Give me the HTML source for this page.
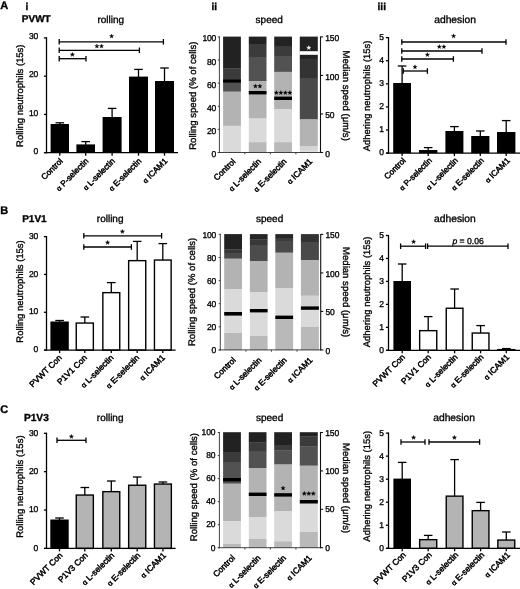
<!DOCTYPE html>
<html><head><meta charset="utf-8"><title>Figure</title>
<style>
html,body{margin:0;padding:0;background:#fff;overflow:hidden;}
svg{display:block;font-family:"Liberation Sans", sans-serif;will-change:transform;filter:grayscale(1);}
svg text{text-rendering:geometricPrecision;}
</style></head><body>
<svg width="520" height="589" viewBox="0 0 520 589">
<rect x="0" y="0" width="520" height="589" fill="#fff"/>
<text x="0.20" y="8.80" font-size="11" font-weight="bold" fill="#000" stroke="#000" stroke-width="0.33">A</text>
<text x="25.60" y="9.80" font-size="10" font-weight="bold" fill="#000" stroke="#000" stroke-width="0.33">i</text>
<text x="21.80" y="22.30" font-size="10" font-weight="bold" fill="#000" stroke="#000" stroke-width="0.33">PVWT</text>
<text x="97.40" y="22.80" font-size="10" fill="#000" stroke="#000" stroke-width="0.33">rolling</text>
<text x="211.40" y="9.80" font-size="10" font-weight="bold" fill="#000" stroke="#000" stroke-width="0.33">ii</text>
<text x="255.60" y="23.10" font-size="10" fill="#000" stroke="#000" stroke-width="0.33">speed</text>
<text x="377.60" y="9.90" font-size="10" font-weight="bold" fill="#000" stroke="#000" stroke-width="0.33">iii</text>
<text x="434.20" y="23.00" font-size="10.3" fill="#000" stroke="#000" stroke-width="0.33">adhesion</text>
<line x1="59.80" y1="124.50" x2="59.80" y2="122.80" stroke="#000" stroke-width="1.3"/>
<line x1="55.50" y1="122.80" x2="64.10" y2="122.80" stroke="#000" stroke-width="1.3"/>
<rect x="50.60" y="124.00" width="18.40" height="28.70" fill="#000"/>
<line x1="85.70" y1="144.90" x2="85.70" y2="141.60" stroke="#000" stroke-width="1.3"/>
<line x1="81.40" y1="141.60" x2="90.00" y2="141.60" stroke="#000" stroke-width="1.3"/>
<rect x="76.40" y="144.40" width="18.60" height="8.30" fill="#000"/>
<line x1="112.10" y1="117.50" x2="112.10" y2="108.40" stroke="#000" stroke-width="1.3"/>
<line x1="107.80" y1="108.40" x2="116.40" y2="108.40" stroke="#000" stroke-width="1.3"/>
<rect x="102.60" y="117.00" width="19.00" height="35.70" fill="#000"/>
<line x1="138.50" y1="77.10" x2="138.50" y2="69.40" stroke="#000" stroke-width="1.3"/>
<line x1="134.20" y1="69.40" x2="142.80" y2="69.40" stroke="#000" stroke-width="1.3"/>
<rect x="129.00" y="76.60" width="19.00" height="76.10" fill="#000"/>
<line x1="164.50" y1="81.50" x2="164.50" y2="68.00" stroke="#000" stroke-width="1.3"/>
<line x1="160.20" y1="68.00" x2="168.80" y2="68.00" stroke="#000" stroke-width="1.3"/>
<rect x="155.00" y="81.00" width="19.00" height="71.70" fill="#000"/>
<line x1="46.50" y1="37.30" x2="46.50" y2="153.30" stroke="#000" stroke-width="1.3"/>
<line x1="43.90" y1="152.70" x2="46.50" y2="152.70" stroke="#000" stroke-width="1.3"/>
<text x="38.20" y="154.00" font-size="8.5" text-anchor="end" letter-spacing="-0.15" fill="#000" stroke="#000" stroke-width="0.33">0</text>
<line x1="43.90" y1="114.43" x2="46.50" y2="114.43" stroke="#000" stroke-width="1.3"/>
<text x="38.20" y="115.73" font-size="8.5" text-anchor="end" letter-spacing="-0.15" fill="#000" stroke="#000" stroke-width="0.33">10</text>
<line x1="43.90" y1="76.17" x2="46.50" y2="76.17" stroke="#000" stroke-width="1.3"/>
<text x="38.20" y="77.47" font-size="8.5" text-anchor="end" letter-spacing="-0.15" fill="#000" stroke="#000" stroke-width="0.33">20</text>
<line x1="43.90" y1="37.90" x2="46.50" y2="37.90" stroke="#000" stroke-width="1.3"/>
<text x="38.20" y="39.20" font-size="8.5" text-anchor="end" letter-spacing="-0.15" fill="#000" stroke="#000" stroke-width="0.33">30</text>
<line x1="44.30" y1="152.70" x2="178.00" y2="152.70" stroke="#000" stroke-width="1.3"/>
<line x1="59.80" y1="152.70" x2="59.80" y2="155.70" stroke="#000" stroke-width="1.3"/>
<text x="63.20" y="161.60" font-size="8.2" text-anchor="end" transform="rotate(-45 63.20 161.60)" fill="#000" stroke="#000" stroke-width="0.48">Control</text>
<line x1="85.70" y1="152.70" x2="85.70" y2="155.70" stroke="#000" stroke-width="1.3"/>
<text x="89.10" y="161.60" font-size="8.2" text-anchor="end" transform="rotate(-45 89.10 161.60)" fill="#000" stroke="#000" stroke-width="0.48"><tspan font-size="7.05">α</tspan> P-selectin</text>
<line x1="112.10" y1="152.70" x2="112.10" y2="155.70" stroke="#000" stroke-width="1.3"/>
<text x="115.50" y="161.60" font-size="8.2" text-anchor="end" transform="rotate(-45 115.50 161.60)" fill="#000" stroke="#000" stroke-width="0.48"><tspan font-size="7.05">α</tspan> L-selectin</text>
<line x1="138.50" y1="152.70" x2="138.50" y2="155.70" stroke="#000" stroke-width="1.3"/>
<text x="141.90" y="161.60" font-size="8.2" text-anchor="end" transform="rotate(-45 141.90 161.60)" fill="#000" stroke="#000" stroke-width="0.48"><tspan font-size="7.05">α</tspan> E-selectin</text>
<line x1="164.50" y1="152.70" x2="164.50" y2="155.70" stroke="#000" stroke-width="1.3"/>
<text x="167.90" y="161.60" font-size="8.2" text-anchor="end" transform="rotate(-45 167.90 161.60)" fill="#000" stroke="#000" stroke-width="0.48"><tspan font-size="7.05">α</tspan> ICAM1</text>
<text x="23.00" y="95.70" font-size="9.5" text-anchor="middle" transform="rotate(-90 23.00 95.70)" fill="#000" stroke="#000" stroke-width="0.33">Rolling neutrophils (15s)</text>
<line x1="59.20" y1="41.80" x2="163.40" y2="41.80" stroke="#000" stroke-width="1.3"/>
<line x1="59.20" y1="39.00" x2="59.20" y2="44.60" stroke="#000" stroke-width="1.3"/>
<line x1="163.40" y1="39.00" x2="163.40" y2="44.60" stroke="#000" stroke-width="1.3"/>
<polygon points="111.60,33.95 112.15,35.44 113.74,35.50 112.49,36.49 112.92,38.02 111.60,37.14 110.28,38.02 110.71,36.49 109.46,35.50 111.05,35.44" fill="#000" stroke="#000" stroke-width="0.3" stroke-linejoin="round"/>
<line x1="59.20" y1="50.30" x2="139.40" y2="50.30" stroke="#000" stroke-width="1.3"/>
<line x1="59.20" y1="47.50" x2="59.20" y2="53.10" stroke="#000" stroke-width="1.3"/>
<line x1="139.40" y1="47.50" x2="139.40" y2="53.10" stroke="#000" stroke-width="1.3"/>
<polygon points="96.90,43.95 97.45,45.44 99.04,45.50 97.79,46.49 98.22,48.02 96.90,47.14 95.58,48.02 96.01,46.49 94.76,45.50 96.35,45.44" fill="#000" stroke="#000" stroke-width="0.3" stroke-linejoin="round"/>
<polygon points="101.50,43.95 102.05,45.44 103.64,45.50 102.39,46.49 102.82,48.02 101.50,47.14 100.18,48.02 100.61,46.49 99.36,45.50 100.95,45.44" fill="#000" stroke="#000" stroke-width="0.3" stroke-linejoin="round"/>
<line x1="59.20" y1="58.70" x2="86.00" y2="58.70" stroke="#000" stroke-width="1.3"/>
<line x1="59.20" y1="55.90" x2="59.20" y2="61.50" stroke="#000" stroke-width="1.3"/>
<line x1="86.00" y1="55.90" x2="86.00" y2="61.50" stroke="#000" stroke-width="1.3"/>
<polygon points="72.40,52.35 72.95,53.84 74.54,53.90 73.29,54.89 73.72,56.42 72.40,55.54 71.08,56.42 71.51,54.89 70.26,53.90 71.85,53.84" fill="#000" stroke="#000" stroke-width="0.3" stroke-linejoin="round"/>
<line x1="402.10" y1="83.50" x2="402.10" y2="66.00" stroke="#000" stroke-width="1.3"/>
<line x1="397.80" y1="66.00" x2="406.40" y2="66.00" stroke="#000" stroke-width="1.3"/>
<rect x="393.20" y="83.00" width="17.80" height="70.10" fill="#000"/>
<line x1="428.20" y1="150.50" x2="428.20" y2="147.60" stroke="#000" stroke-width="1.3"/>
<line x1="423.90" y1="147.60" x2="432.50" y2="147.60" stroke="#000" stroke-width="1.3"/>
<rect x="419.00" y="150.00" width="18.40" height="3.10" fill="#000"/>
<line x1="454.40" y1="131.50" x2="454.40" y2="126.60" stroke="#000" stroke-width="1.3"/>
<line x1="450.10" y1="126.60" x2="458.70" y2="126.60" stroke="#000" stroke-width="1.3"/>
<rect x="445.40" y="131.00" width="18.00" height="22.10" fill="#000"/>
<line x1="480.30" y1="136.50" x2="480.30" y2="131.00" stroke="#000" stroke-width="1.3"/>
<line x1="476.00" y1="131.00" x2="484.60" y2="131.00" stroke="#000" stroke-width="1.3"/>
<rect x="471.20" y="136.00" width="18.20" height="17.10" fill="#000"/>
<line x1="506.20" y1="132.50" x2="506.20" y2="120.60" stroke="#000" stroke-width="1.3"/>
<line x1="501.90" y1="120.60" x2="510.50" y2="120.60" stroke="#000" stroke-width="1.3"/>
<rect x="497.00" y="132.00" width="18.40" height="21.10" fill="#000"/>
<line x1="388.50" y1="37.00" x2="388.50" y2="153.70" stroke="#000" stroke-width="1.3"/>
<line x1="385.90" y1="153.10" x2="388.50" y2="153.10" stroke="#000" stroke-width="1.3"/>
<text x="383.80" y="155.30" font-size="8.5" text-anchor="end" letter-spacing="-0.15" fill="#000" stroke="#000" stroke-width="0.33">0</text>
<line x1="385.90" y1="130.00" x2="388.50" y2="130.00" stroke="#000" stroke-width="1.3"/>
<text x="383.80" y="132.20" font-size="8.5" text-anchor="end" letter-spacing="-0.15" fill="#000" stroke="#000" stroke-width="0.33">1</text>
<line x1="385.90" y1="106.90" x2="388.50" y2="106.90" stroke="#000" stroke-width="1.3"/>
<text x="383.80" y="109.10" font-size="8.5" text-anchor="end" letter-spacing="-0.15" fill="#000" stroke="#000" stroke-width="0.33">2</text>
<line x1="385.90" y1="83.80" x2="388.50" y2="83.80" stroke="#000" stroke-width="1.3"/>
<text x="383.80" y="86.00" font-size="8.5" text-anchor="end" letter-spacing="-0.15" fill="#000" stroke="#000" stroke-width="0.33">3</text>
<line x1="385.90" y1="60.70" x2="388.50" y2="60.70" stroke="#000" stroke-width="1.3"/>
<text x="383.80" y="62.90" font-size="8.5" text-anchor="end" letter-spacing="-0.15" fill="#000" stroke="#000" stroke-width="0.33">4</text>
<line x1="385.90" y1="37.60" x2="388.50" y2="37.60" stroke="#000" stroke-width="1.3"/>
<text x="383.80" y="39.80" font-size="8.5" text-anchor="end" letter-spacing="-0.15" fill="#000" stroke="#000" stroke-width="0.33">5</text>
<line x1="386.30" y1="153.10" x2="520.00" y2="153.10" stroke="#000" stroke-width="1.3"/>
<line x1="402.10" y1="153.10" x2="402.10" y2="156.10" stroke="#000" stroke-width="1.3"/>
<text x="406.30" y="161.10" font-size="8.2" text-anchor="end" transform="rotate(-45 406.30 161.10)" fill="#000" stroke="#000" stroke-width="0.48">Control</text>
<line x1="428.20" y1="153.10" x2="428.20" y2="156.10" stroke="#000" stroke-width="1.3"/>
<text x="432.40" y="161.10" font-size="8.2" text-anchor="end" transform="rotate(-45 432.40 161.10)" fill="#000" stroke="#000" stroke-width="0.48"><tspan font-size="7.05">α</tspan> P-selectin</text>
<line x1="454.40" y1="153.10" x2="454.40" y2="156.10" stroke="#000" stroke-width="1.3"/>
<text x="458.60" y="161.10" font-size="8.2" text-anchor="end" transform="rotate(-45 458.60 161.10)" fill="#000" stroke="#000" stroke-width="0.48"><tspan font-size="7.05">α</tspan> L-selectin</text>
<line x1="480.30" y1="153.10" x2="480.30" y2="156.10" stroke="#000" stroke-width="1.3"/>
<text x="484.50" y="161.10" font-size="8.2" text-anchor="end" transform="rotate(-45 484.50 161.10)" fill="#000" stroke="#000" stroke-width="0.48"><tspan font-size="7.05">α</tspan> E-selectin</text>
<line x1="506.20" y1="153.10" x2="506.20" y2="156.10" stroke="#000" stroke-width="1.3"/>
<text x="510.40" y="161.10" font-size="8.2" text-anchor="end" transform="rotate(-45 510.40 161.10)" fill="#000" stroke="#000" stroke-width="0.48"><tspan font-size="7.05">α</tspan> ICAM1</text>
<text x="370.50" y="95.95" font-size="9.45" text-anchor="middle" transform="rotate(-90 370.50 95.95)" fill="#000" stroke="#000" stroke-width="0.33">Adhering neutrophils (15s)</text>
<line x1="401.80" y1="42.00" x2="506.00" y2="42.00" stroke="#000" stroke-width="1.3"/>
<line x1="401.80" y1="39.20" x2="401.80" y2="44.80" stroke="#000" stroke-width="1.3"/>
<line x1="506.00" y1="39.20" x2="506.00" y2="44.80" stroke="#000" stroke-width="1.3"/>
<polygon points="453.60,33.85 454.15,35.34 455.74,35.40 454.49,36.39 454.92,37.92 453.60,37.04 452.28,37.92 452.71,36.39 451.46,35.40 453.05,35.34" fill="#000" stroke="#000" stroke-width="0.3" stroke-linejoin="round"/>
<line x1="401.80" y1="51.00" x2="482.00" y2="51.00" stroke="#000" stroke-width="1.3"/>
<line x1="401.80" y1="48.20" x2="401.80" y2="53.80" stroke="#000" stroke-width="1.3"/>
<line x1="482.00" y1="48.20" x2="482.00" y2="53.80" stroke="#000" stroke-width="1.3"/>
<polygon points="439.30,44.55 439.85,46.04 441.44,46.10 440.19,47.09 440.62,48.62 439.30,47.74 437.98,48.62 438.41,47.09 437.16,46.10 438.75,46.04" fill="#000" stroke="#000" stroke-width="0.3" stroke-linejoin="round"/>
<polygon points="443.90,44.55 444.45,46.04 446.04,46.10 444.79,47.09 445.22,48.62 443.90,47.74 442.58,48.62 443.01,47.09 441.76,46.10 443.35,46.04" fill="#000" stroke="#000" stroke-width="0.3" stroke-linejoin="round"/>
<line x1="401.80" y1="59.00" x2="453.40" y2="59.00" stroke="#000" stroke-width="1.3"/>
<line x1="401.80" y1="56.20" x2="401.80" y2="61.80" stroke="#000" stroke-width="1.3"/>
<line x1="453.40" y1="56.20" x2="453.40" y2="61.80" stroke="#000" stroke-width="1.3"/>
<polygon points="427.40,52.55 427.95,54.04 429.54,54.10 428.29,55.09 428.72,56.62 427.40,55.74 426.08,56.62 426.51,55.09 425.26,54.10 426.85,54.04" fill="#000" stroke="#000" stroke-width="0.3" stroke-linejoin="round"/>
<line x1="403.30" y1="71.00" x2="427.40" y2="71.00" stroke="#000" stroke-width="1.3"/>
<line x1="403.30" y1="68.20" x2="403.30" y2="73.80" stroke="#000" stroke-width="1.3"/>
<line x1="427.40" y1="68.20" x2="427.40" y2="73.80" stroke="#000" stroke-width="1.3"/>
<polygon points="415.00,64.75 415.55,66.24 417.14,66.30 415.89,67.29 416.32,68.82 415.00,67.94 413.68,68.82 414.11,67.29 412.86,66.30 414.45,66.24" fill="#000" stroke="#000" stroke-width="0.3" stroke-linejoin="round"/>
<text x="0.20" y="214.20" font-size="11" font-weight="bold" fill="#000" stroke="#000" stroke-width="0.33">B</text>
<text x="22.20" y="222.40" font-size="10" font-weight="bold" fill="#000" stroke="#000" stroke-width="0.33">P1V1</text>
<text x="96.80" y="222.20" font-size="10" fill="#000" stroke="#000" stroke-width="0.33">rolling</text>
<text x="256.00" y="222.00" font-size="10" fill="#000" stroke="#000" stroke-width="0.33">speed</text>
<text x="434.00" y="222.20" font-size="10.3" fill="#000" stroke="#000" stroke-width="0.33">adhesion</text>
<line x1="59.60" y1="322.00" x2="59.60" y2="320.50" stroke="#000" stroke-width="1.3"/>
<line x1="55.30" y1="320.50" x2="63.90" y2="320.50" stroke="#000" stroke-width="1.3"/>
<rect x="50.40" y="321.50" width="18.40" height="28.60" fill="#000"/>
<line x1="84.80" y1="322.90" x2="84.80" y2="317.00" stroke="#000" stroke-width="1.3"/>
<line x1="80.50" y1="317.00" x2="89.10" y2="317.00" stroke="#000" stroke-width="1.3"/>
<rect x="76.25" y="323.05" width="17.10" height="27.05" fill="#fff" stroke="#000" stroke-width="1.4"/>
<line x1="111.30" y1="292.50" x2="111.30" y2="282.60" stroke="#000" stroke-width="1.3"/>
<line x1="107.00" y1="282.60" x2="115.60" y2="282.60" stroke="#000" stroke-width="1.3"/>
<rect x="102.85" y="292.65" width="16.90" height="57.45" fill="#fff" stroke="#000" stroke-width="1.4"/>
<line x1="137.20" y1="260.50" x2="137.20" y2="241.40" stroke="#000" stroke-width="1.3"/>
<line x1="132.90" y1="241.40" x2="141.50" y2="241.40" stroke="#000" stroke-width="1.3"/>
<rect x="128.65" y="260.65" width="17.10" height="89.45" fill="#fff" stroke="#000" stroke-width="1.4"/>
<line x1="162.80" y1="259.90" x2="162.80" y2="243.60" stroke="#000" stroke-width="1.3"/>
<line x1="158.50" y1="243.60" x2="167.10" y2="243.60" stroke="#000" stroke-width="1.3"/>
<rect x="154.45" y="260.05" width="16.70" height="90.05" fill="#fff" stroke="#000" stroke-width="1.4"/>
<line x1="46.50" y1="236.00" x2="46.50" y2="350.70" stroke="#000" stroke-width="1.3"/>
<line x1="43.90" y1="350.10" x2="46.50" y2="350.10" stroke="#000" stroke-width="1.3"/>
<text x="38.20" y="352.30" font-size="8.5" text-anchor="end" letter-spacing="-0.15" fill="#000" stroke="#000" stroke-width="0.33">0</text>
<line x1="43.90" y1="312.27" x2="46.50" y2="312.27" stroke="#000" stroke-width="1.3"/>
<text x="38.20" y="314.47" font-size="8.5" text-anchor="end" letter-spacing="-0.15" fill="#000" stroke="#000" stroke-width="0.33">10</text>
<line x1="43.90" y1="274.43" x2="46.50" y2="274.43" stroke="#000" stroke-width="1.3"/>
<text x="38.20" y="276.63" font-size="8.5" text-anchor="end" letter-spacing="-0.15" fill="#000" stroke="#000" stroke-width="0.33">20</text>
<line x1="43.90" y1="236.60" x2="46.50" y2="236.60" stroke="#000" stroke-width="1.3"/>
<text x="38.20" y="238.80" font-size="8.5" text-anchor="end" letter-spacing="-0.15" fill="#000" stroke="#000" stroke-width="0.33">30</text>
<line x1="44.30" y1="350.10" x2="175.60" y2="350.10" stroke="#000" stroke-width="1.3"/>
<line x1="59.60" y1="350.10" x2="59.60" y2="353.10" stroke="#000" stroke-width="1.3"/>
<text x="62.30" y="358.30" font-size="8.4" text-anchor="end" transform="rotate(-45 62.30 358.30)" fill="#000" stroke="#000" stroke-width="0.48">PVWT Con</text>
<line x1="84.80" y1="350.10" x2="84.80" y2="353.10" stroke="#000" stroke-width="1.3"/>
<text x="87.50" y="358.30" font-size="8.4" text-anchor="end" transform="rotate(-45 87.50 358.30)" fill="#000" stroke="#000" stroke-width="0.48">P1V1 Con</text>
<line x1="111.30" y1="350.10" x2="111.30" y2="353.10" stroke="#000" stroke-width="1.3"/>
<text x="114.00" y="358.30" font-size="8.4" text-anchor="end" transform="rotate(-45 114.00 358.30)" fill="#000" stroke="#000" stroke-width="0.48"><tspan font-size="7.22">α</tspan> L-selectin</text>
<line x1="137.20" y1="350.10" x2="137.20" y2="353.10" stroke="#000" stroke-width="1.3"/>
<text x="139.90" y="358.30" font-size="8.4" text-anchor="end" transform="rotate(-45 139.90 358.30)" fill="#000" stroke="#000" stroke-width="0.48"><tspan font-size="7.22">α</tspan> E-selectin</text>
<line x1="162.80" y1="350.10" x2="162.80" y2="353.10" stroke="#000" stroke-width="1.3"/>
<text x="165.50" y="358.30" font-size="8.4" text-anchor="end" transform="rotate(-45 165.50 358.30)" fill="#000" stroke="#000" stroke-width="0.48"><tspan font-size="7.22">α</tspan> ICAM1</text>
<text x="23.00" y="291.45" font-size="9.5" text-anchor="middle" transform="rotate(-90 23.00 291.45)" fill="#000" stroke="#000" stroke-width="0.33">Rolling neutrophils (15s)</text>
<line x1="83.80" y1="235.80" x2="161.60" y2="235.80" stroke="#000" stroke-width="1.3"/>
<line x1="83.80" y1="233.00" x2="83.80" y2="238.60" stroke="#000" stroke-width="1.3"/>
<line x1="161.60" y1="233.00" x2="161.60" y2="238.60" stroke="#000" stroke-width="1.3"/>
<polygon points="122.40,229.35 122.95,230.84 124.54,230.90 123.29,231.89 123.72,233.42 122.40,232.54 121.08,233.42 121.51,231.89 120.26,230.90 121.85,230.84" fill="#000" stroke="#000" stroke-width="0.3" stroke-linejoin="round"/>
<line x1="83.80" y1="247.00" x2="131.40" y2="247.00" stroke="#000" stroke-width="1.3"/>
<line x1="83.80" y1="244.20" x2="83.80" y2="249.80" stroke="#000" stroke-width="1.3"/>
<line x1="131.40" y1="244.20" x2="131.40" y2="249.80" stroke="#000" stroke-width="1.3"/>
<polygon points="107.60,240.35 108.15,241.84 109.74,241.90 108.49,242.89 108.92,244.42 107.60,243.54 106.28,244.42 106.71,242.89 105.46,241.90 107.05,241.84" fill="#000" stroke="#000" stroke-width="0.3" stroke-linejoin="round"/>
<line x1="402.20" y1="281.50" x2="402.20" y2="264.00" stroke="#000" stroke-width="1.3"/>
<line x1="397.90" y1="264.00" x2="406.50" y2="264.00" stroke="#000" stroke-width="1.3"/>
<rect x="393.40" y="281.00" width="17.60" height="69.30" fill="#000"/>
<line x1="428.20" y1="330.50" x2="428.20" y2="316.60" stroke="#000" stroke-width="1.3"/>
<line x1="423.90" y1="316.60" x2="432.50" y2="316.60" stroke="#000" stroke-width="1.3"/>
<rect x="419.65" y="330.65" width="17.10" height="19.65" fill="#fff" stroke="#000" stroke-width="1.4"/>
<line x1="454.60" y1="308.10" x2="454.60" y2="289.00" stroke="#000" stroke-width="1.3"/>
<line x1="450.30" y1="289.00" x2="458.90" y2="289.00" stroke="#000" stroke-width="1.3"/>
<rect x="446.25" y="308.25" width="16.70" height="42.05" fill="#fff" stroke="#000" stroke-width="1.4"/>
<line x1="480.60" y1="332.90" x2="480.60" y2="325.60" stroke="#000" stroke-width="1.3"/>
<line x1="476.30" y1="325.60" x2="484.90" y2="325.60" stroke="#000" stroke-width="1.3"/>
<rect x="472.25" y="333.05" width="16.70" height="17.25" fill="#fff" stroke="#000" stroke-width="1.4"/>
<line x1="506.30" y1="349.50" x2="506.30" y2="348.60" stroke="#000" stroke-width="1.3"/>
<line x1="502.00" y1="348.60" x2="510.60" y2="348.60" stroke="#000" stroke-width="1.3"/>
<rect x="497.85" y="349.65" width="16.90" height="0.65" fill="#fff" stroke="#000" stroke-width="1.4"/>
<line x1="388.50" y1="234.90" x2="388.50" y2="350.90" stroke="#000" stroke-width="1.3"/>
<line x1="385.90" y1="350.30" x2="388.50" y2="350.30" stroke="#000" stroke-width="1.3"/>
<text x="383.80" y="352.50" font-size="8.5" text-anchor="end" letter-spacing="-0.15" fill="#000" stroke="#000" stroke-width="0.33">0</text>
<line x1="385.90" y1="327.34" x2="388.50" y2="327.34" stroke="#000" stroke-width="1.3"/>
<text x="383.80" y="329.54" font-size="8.5" text-anchor="end" letter-spacing="-0.15" fill="#000" stroke="#000" stroke-width="0.33">1</text>
<line x1="385.90" y1="304.38" x2="388.50" y2="304.38" stroke="#000" stroke-width="1.3"/>
<text x="383.80" y="306.58" font-size="8.5" text-anchor="end" letter-spacing="-0.15" fill="#000" stroke="#000" stroke-width="0.33">2</text>
<line x1="385.90" y1="281.42" x2="388.50" y2="281.42" stroke="#000" stroke-width="1.3"/>
<text x="383.80" y="283.62" font-size="8.5" text-anchor="end" letter-spacing="-0.15" fill="#000" stroke="#000" stroke-width="0.33">3</text>
<line x1="385.90" y1="258.46" x2="388.50" y2="258.46" stroke="#000" stroke-width="1.3"/>
<text x="383.80" y="260.66" font-size="8.5" text-anchor="end" letter-spacing="-0.15" fill="#000" stroke="#000" stroke-width="0.33">4</text>
<line x1="385.90" y1="235.50" x2="388.50" y2="235.50" stroke="#000" stroke-width="1.3"/>
<text x="383.80" y="237.70" font-size="8.5" text-anchor="end" letter-spacing="-0.15" fill="#000" stroke="#000" stroke-width="0.33">5</text>
<line x1="386.30" y1="350.30" x2="520.00" y2="350.30" stroke="#000" stroke-width="1.3"/>
<line x1="402.20" y1="350.30" x2="402.20" y2="353.30" stroke="#000" stroke-width="1.3"/>
<text x="405.60" y="357.70" font-size="8.4" text-anchor="end" transform="rotate(-45 405.60 357.70)" fill="#000" stroke="#000" stroke-width="0.48">PVWT Con</text>
<line x1="428.20" y1="350.30" x2="428.20" y2="353.30" stroke="#000" stroke-width="1.3"/>
<text x="431.60" y="357.70" font-size="8.4" text-anchor="end" transform="rotate(-45 431.60 357.70)" fill="#000" stroke="#000" stroke-width="0.48">P1V1 Con</text>
<line x1="454.60" y1="350.30" x2="454.60" y2="353.30" stroke="#000" stroke-width="1.3"/>
<text x="458.00" y="357.70" font-size="8.4" text-anchor="end" transform="rotate(-45 458.00 357.70)" fill="#000" stroke="#000" stroke-width="0.48"><tspan font-size="7.22">α</tspan> L-selectin</text>
<line x1="480.60" y1="350.30" x2="480.60" y2="353.30" stroke="#000" stroke-width="1.3"/>
<text x="484.00" y="357.70" font-size="8.4" text-anchor="end" transform="rotate(-45 484.00 357.70)" fill="#000" stroke="#000" stroke-width="0.48"><tspan font-size="7.22">α</tspan> E-selectin</text>
<line x1="506.30" y1="350.30" x2="506.30" y2="353.30" stroke="#000" stroke-width="1.3"/>
<text x="509.70" y="357.70" font-size="8.4" text-anchor="end" transform="rotate(-45 509.70 357.70)" fill="#000" stroke="#000" stroke-width="0.48"><tspan font-size="7.22">α</tspan> ICAM1</text>
<text x="370.50" y="291.90" font-size="9.45" text-anchor="middle" transform="rotate(-90 370.50 291.90)" fill="#000" stroke="#000" stroke-width="0.33">Adhering neutrophils (15s)</text>
<line x1="400.60" y1="246.20" x2="425.60" y2="246.20" stroke="#000" stroke-width="1.3"/>
<line x1="400.60" y1="243.40" x2="400.60" y2="249.00" stroke="#000" stroke-width="1.3"/>
<line x1="425.60" y1="243.40" x2="425.60" y2="249.00" stroke="#000" stroke-width="1.3"/>
<polygon points="413.60,239.55 414.15,241.04 415.74,241.10 414.49,242.09 414.92,243.62 413.60,242.74 412.28,243.62 412.71,242.09 411.46,241.10 413.05,241.04" fill="#000" stroke="#000" stroke-width="0.3" stroke-linejoin="round"/>
<line x1="427.60" y1="246.20" x2="508.00" y2="246.20" stroke="#000" stroke-width="1.3"/>
<line x1="427.60" y1="243.40" x2="427.60" y2="249.00" stroke="#000" stroke-width="1.3"/>
<line x1="508.00" y1="243.40" x2="508.00" y2="249.00" stroke="#000" stroke-width="1.3"/>
<text x="452.40" y="243.70" font-size="8.6" fill="#000" stroke="#000" stroke-width="0.33"><tspan font-style="italic">p</tspan> = 0.06</text>
<text x="0.20" y="413.20" font-size="11" font-weight="bold" fill="#000" stroke="#000" stroke-width="0.33">C</text>
<text x="23.90" y="421.20" font-size="10.2" font-weight="bold" fill="#000" stroke="#000" stroke-width="0.33">P1V3</text>
<text x="96.80" y="421.00" font-size="10" fill="#000" stroke="#000" stroke-width="0.33">rolling</text>
<text x="256.00" y="421.00" font-size="10" fill="#000" stroke="#000" stroke-width="0.33">speed</text>
<text x="433.20" y="421.00" font-size="10.3" fill="#000" stroke="#000" stroke-width="0.33">adhesion</text>
<line x1="59.50" y1="520.00" x2="59.50" y2="518.00" stroke="#000" stroke-width="1.3"/>
<line x1="55.20" y1="518.00" x2="63.80" y2="518.00" stroke="#000" stroke-width="1.3"/>
<rect x="50.30" y="519.50" width="18.40" height="28.90" fill="#000"/>
<line x1="84.80" y1="494.90" x2="84.80" y2="487.50" stroke="#000" stroke-width="1.3"/>
<line x1="80.50" y1="487.50" x2="89.10" y2="487.50" stroke="#000" stroke-width="1.3"/>
<rect x="76.25" y="495.05" width="17.10" height="53.35" fill="#b4b4b4" stroke="#000" stroke-width="1.4"/>
<line x1="111.30" y1="491.50" x2="111.30" y2="481.00" stroke="#000" stroke-width="1.3"/>
<line x1="107.00" y1="481.00" x2="115.60" y2="481.00" stroke="#000" stroke-width="1.3"/>
<rect x="102.85" y="491.65" width="16.90" height="56.75" fill="#b4b4b4" stroke="#000" stroke-width="1.4"/>
<line x1="137.20" y1="485.10" x2="137.20" y2="477.00" stroke="#000" stroke-width="1.3"/>
<line x1="132.90" y1="477.00" x2="141.50" y2="477.00" stroke="#000" stroke-width="1.3"/>
<rect x="128.65" y="485.25" width="17.10" height="63.15" fill="#b4b4b4" stroke="#000" stroke-width="1.4"/>
<line x1="162.90" y1="483.90" x2="162.90" y2="482.00" stroke="#000" stroke-width="1.3"/>
<line x1="158.60" y1="482.00" x2="167.20" y2="482.00" stroke="#000" stroke-width="1.3"/>
<rect x="154.45" y="484.05" width="16.90" height="64.35" fill="#b4b4b4" stroke="#000" stroke-width="1.4"/>
<line x1="46.50" y1="432.70" x2="46.50" y2="549.00" stroke="#000" stroke-width="1.3"/>
<line x1="43.90" y1="548.40" x2="46.50" y2="548.40" stroke="#000" stroke-width="1.3"/>
<text x="38.20" y="550.80" font-size="8.5" text-anchor="end" letter-spacing="-0.15" fill="#000" stroke="#000" stroke-width="0.33">0</text>
<line x1="43.90" y1="510.03" x2="46.50" y2="510.03" stroke="#000" stroke-width="1.3"/>
<text x="38.20" y="512.43" font-size="8.5" text-anchor="end" letter-spacing="-0.15" fill="#000" stroke="#000" stroke-width="0.33">10</text>
<line x1="43.90" y1="471.67" x2="46.50" y2="471.67" stroke="#000" stroke-width="1.3"/>
<text x="38.20" y="474.07" font-size="8.5" text-anchor="end" letter-spacing="-0.15" fill="#000" stroke="#000" stroke-width="0.33">20</text>
<line x1="43.90" y1="433.30" x2="46.50" y2="433.30" stroke="#000" stroke-width="1.3"/>
<text x="38.20" y="435.70" font-size="8.5" text-anchor="end" letter-spacing="-0.15" fill="#000" stroke="#000" stroke-width="0.33">30</text>
<line x1="44.30" y1="548.40" x2="175.60" y2="548.40" stroke="#000" stroke-width="1.3"/>
<line x1="59.50" y1="548.40" x2="59.50" y2="551.40" stroke="#000" stroke-width="1.3"/>
<text x="63.10" y="555.90" font-size="8.4" text-anchor="end" transform="rotate(-45 63.10 555.90)" fill="#000" stroke="#000" stroke-width="0.48">PVWT Con</text>
<line x1="84.80" y1="548.40" x2="84.80" y2="551.40" stroke="#000" stroke-width="1.3"/>
<text x="88.40" y="555.90" font-size="8.4" text-anchor="end" transform="rotate(-45 88.40 555.90)" fill="#000" stroke="#000" stroke-width="0.48">P1V3 Con</text>
<line x1="111.30" y1="548.40" x2="111.30" y2="551.40" stroke="#000" stroke-width="1.3"/>
<text x="114.90" y="555.90" font-size="8.4" text-anchor="end" transform="rotate(-45 114.90 555.90)" fill="#000" stroke="#000" stroke-width="0.48"><tspan font-size="7.22">α</tspan> L-selectin</text>
<line x1="137.20" y1="548.40" x2="137.20" y2="551.40" stroke="#000" stroke-width="1.3"/>
<text x="140.80" y="555.90" font-size="8.4" text-anchor="end" transform="rotate(-45 140.80 555.90)" fill="#000" stroke="#000" stroke-width="0.48"><tspan font-size="7.22">α</tspan> E-selectin</text>
<line x1="162.90" y1="548.40" x2="162.90" y2="551.40" stroke="#000" stroke-width="1.3"/>
<text x="166.50" y="555.90" font-size="8.4" text-anchor="end" transform="rotate(-45 166.50 555.90)" fill="#000" stroke="#000" stroke-width="0.48"><tspan font-size="7.22">α</tspan> ICAM1</text>
<text x="23.00" y="486.65" font-size="9.5" text-anchor="middle" transform="rotate(-90 23.00 486.65)" fill="#000" stroke="#000" stroke-width="0.33">Rolling neutrophils (15s)</text>
<line x1="57.00" y1="440.30" x2="86.00" y2="440.30" stroke="#000" stroke-width="1.3"/>
<line x1="57.00" y1="437.50" x2="57.00" y2="443.10" stroke="#000" stroke-width="1.3"/>
<line x1="86.00" y1="437.50" x2="86.00" y2="443.10" stroke="#000" stroke-width="1.3"/>
<polygon points="71.40,434.35 71.95,435.84 73.54,435.90 72.29,436.89 72.72,438.42 71.40,437.54 70.08,438.42 70.51,436.89 69.26,435.90 70.85,435.84" fill="#000" stroke="#000" stroke-width="0.3" stroke-linejoin="round"/>
<line x1="402.20" y1="479.10" x2="402.20" y2="462.40" stroke="#000" stroke-width="1.3"/>
<line x1="397.90" y1="462.40" x2="406.50" y2="462.40" stroke="#000" stroke-width="1.3"/>
<rect x="393.40" y="478.60" width="17.60" height="69.70" fill="#000"/>
<line x1="428.20" y1="539.50" x2="428.20" y2="535.40" stroke="#000" stroke-width="1.3"/>
<line x1="423.90" y1="535.40" x2="432.50" y2="535.40" stroke="#000" stroke-width="1.3"/>
<rect x="419.65" y="539.65" width="17.10" height="8.65" fill="#b4b4b4" stroke="#000" stroke-width="1.4"/>
<line x1="454.60" y1="496.00" x2="454.60" y2="459.60" stroke="#000" stroke-width="1.3"/>
<line x1="450.30" y1="459.60" x2="458.90" y2="459.60" stroke="#000" stroke-width="1.3"/>
<rect x="446.25" y="496.15" width="16.70" height="52.15" fill="#b4b4b4" stroke="#000" stroke-width="1.4"/>
<line x1="480.60" y1="510.50" x2="480.60" y2="502.40" stroke="#000" stroke-width="1.3"/>
<line x1="476.30" y1="502.40" x2="484.90" y2="502.40" stroke="#000" stroke-width="1.3"/>
<rect x="472.25" y="510.65" width="16.70" height="37.65" fill="#b4b4b4" stroke="#000" stroke-width="1.4"/>
<line x1="506.30" y1="539.90" x2="506.30" y2="532.00" stroke="#000" stroke-width="1.3"/>
<line x1="502.00" y1="532.00" x2="510.60" y2="532.00" stroke="#000" stroke-width="1.3"/>
<rect x="497.85" y="540.05" width="16.90" height="8.25" fill="#b4b4b4" stroke="#000" stroke-width="1.4"/>
<line x1="388.50" y1="432.50" x2="388.50" y2="548.90" stroke="#000" stroke-width="1.3"/>
<line x1="385.90" y1="548.30" x2="388.50" y2="548.30" stroke="#000" stroke-width="1.3"/>
<text x="383.80" y="550.90" font-size="8.5" text-anchor="end" letter-spacing="-0.15" fill="#000" stroke="#000" stroke-width="0.33">0</text>
<line x1="385.90" y1="525.26" x2="388.50" y2="525.26" stroke="#000" stroke-width="1.3"/>
<text x="383.80" y="527.86" font-size="8.5" text-anchor="end" letter-spacing="-0.15" fill="#000" stroke="#000" stroke-width="0.33">1</text>
<line x1="385.90" y1="502.22" x2="388.50" y2="502.22" stroke="#000" stroke-width="1.3"/>
<text x="383.80" y="504.82" font-size="8.5" text-anchor="end" letter-spacing="-0.15" fill="#000" stroke="#000" stroke-width="0.33">2</text>
<line x1="385.90" y1="479.18" x2="388.50" y2="479.18" stroke="#000" stroke-width="1.3"/>
<text x="383.80" y="481.78" font-size="8.5" text-anchor="end" letter-spacing="-0.15" fill="#000" stroke="#000" stroke-width="0.33">3</text>
<line x1="385.90" y1="456.14" x2="388.50" y2="456.14" stroke="#000" stroke-width="1.3"/>
<text x="383.80" y="458.74" font-size="8.5" text-anchor="end" letter-spacing="-0.15" fill="#000" stroke="#000" stroke-width="0.33">4</text>
<line x1="385.90" y1="433.10" x2="388.50" y2="433.10" stroke="#000" stroke-width="1.3"/>
<text x="383.80" y="435.70" font-size="8.5" text-anchor="end" letter-spacing="-0.15" fill="#000" stroke="#000" stroke-width="0.33">5</text>
<line x1="386.30" y1="548.30" x2="520.00" y2="548.30" stroke="#000" stroke-width="1.3"/>
<line x1="402.20" y1="548.30" x2="402.20" y2="551.30" stroke="#000" stroke-width="1.3"/>
<text x="406.40" y="555.40" font-size="8.4" text-anchor="end" transform="rotate(-45 406.40 555.40)" fill="#000" stroke="#000" stroke-width="0.48">PVWT Con</text>
<line x1="428.20" y1="548.30" x2="428.20" y2="551.30" stroke="#000" stroke-width="1.3"/>
<text x="432.40" y="555.40" font-size="8.4" text-anchor="end" transform="rotate(-45 432.40 555.40)" fill="#000" stroke="#000" stroke-width="0.48">P1V3 Con</text>
<line x1="454.60" y1="548.30" x2="454.60" y2="551.30" stroke="#000" stroke-width="1.3"/>
<text x="458.80" y="555.40" font-size="8.4" text-anchor="end" transform="rotate(-45 458.80 555.40)" fill="#000" stroke="#000" stroke-width="0.48"><tspan font-size="7.22">α</tspan> L-selectin</text>
<line x1="480.60" y1="548.30" x2="480.60" y2="551.30" stroke="#000" stroke-width="1.3"/>
<text x="484.80" y="555.40" font-size="8.4" text-anchor="end" transform="rotate(-45 484.80 555.40)" fill="#000" stroke="#000" stroke-width="0.48"><tspan font-size="7.22">α</tspan> E-selectin</text>
<line x1="506.30" y1="548.30" x2="506.30" y2="551.30" stroke="#000" stroke-width="1.3"/>
<text x="510.50" y="555.40" font-size="8.4" text-anchor="end" transform="rotate(-45 510.50 555.40)" fill="#000" stroke="#000" stroke-width="0.48"><tspan font-size="7.22">α</tspan> ICAM1</text>
<text x="370.50" y="486.30" font-size="9.45" text-anchor="middle" transform="rotate(-90 370.50 486.30)" fill="#000" stroke="#000" stroke-width="0.33">Adhering neutrophils (15s)</text>
<line x1="401.00" y1="442.00" x2="425.00" y2="442.00" stroke="#000" stroke-width="1.3"/>
<line x1="401.00" y1="439.20" x2="401.00" y2="444.80" stroke="#000" stroke-width="1.3"/>
<line x1="425.00" y1="439.20" x2="425.00" y2="444.80" stroke="#000" stroke-width="1.3"/>
<polygon points="413.60,435.35 414.15,436.84 415.74,436.90 414.49,437.89 414.92,439.42 413.60,438.54 412.28,439.42 412.71,437.89 411.46,436.90 413.05,436.84" fill="#000" stroke="#000" stroke-width="0.3" stroke-linejoin="round"/>
<line x1="429.00" y1="442.00" x2="479.60" y2="442.00" stroke="#000" stroke-width="1.3"/>
<line x1="429.00" y1="439.20" x2="429.00" y2="444.80" stroke="#000" stroke-width="1.3"/>
<line x1="479.60" y1="439.20" x2="479.60" y2="444.80" stroke="#000" stroke-width="1.3"/>
<polygon points="454.40,435.35 454.95,436.84 456.54,436.90 455.29,437.89 455.72,439.42 454.40,438.54 453.08,439.42 453.51,437.89 452.26,436.90 453.85,436.84" fill="#000" stroke="#000" stroke-width="0.3" stroke-linejoin="round"/>
<rect x="223.10" y="36.60" width="17.80" height="32.00" fill="#222222"/>
<rect x="223.10" y="68.30" width="17.80" height="11.60" fill="#3b3b3b"/>
<rect x="223.10" y="79.60" width="17.80" height="12.30" fill="#525252"/>
<rect x="223.10" y="91.60" width="17.80" height="34.50" fill="#b3b3b3"/>
<rect x="223.10" y="125.80" width="17.80" height="27.00" fill="#dadada"/>
<rect x="248.80" y="36.60" width="17.70" height="7.70" fill="#222222"/>
<rect x="248.80" y="44.00" width="17.70" height="13.30" fill="#3b3b3b"/>
<rect x="248.80" y="57.00" width="17.70" height="24.30" fill="#525252"/>
<rect x="248.80" y="81.00" width="17.70" height="37.70" fill="#b3b3b3"/>
<rect x="248.80" y="118.40" width="17.70" height="24.10" fill="#dadada"/>
<rect x="248.80" y="142.20" width="17.70" height="10.60" fill="#b9b9b9"/>
<rect x="274.20" y="36.60" width="17.80" height="10.30" fill="#222222"/>
<rect x="274.20" y="46.60" width="17.80" height="9.70" fill="#3b3b3b"/>
<rect x="274.20" y="56.00" width="17.80" height="16.10" fill="#525252"/>
<rect x="274.20" y="71.80" width="17.80" height="37.50" fill="#b3b3b3"/>
<rect x="274.20" y="109.00" width="17.80" height="33.50" fill="#dadada"/>
<rect x="274.20" y="142.20" width="17.80" height="10.60" fill="#b9b9b9"/>
<rect x="299.80" y="36.60" width="18.00" height="23.30" fill="#222222"/>
<rect x="299.80" y="59.60" width="18.00" height="19.30" fill="#333333"/>
<rect x="299.80" y="78.60" width="18.00" height="41.00" fill="#4a4a4a"/>
<rect x="299.80" y="119.30" width="18.00" height="27.30" fill="#b3b3b3"/>
<rect x="299.80" y="146.30" width="18.00" height="4.60" fill="#d4d4d4"/>
<rect x="299.80" y="150.60" width="18.00" height="2.20" fill="#dedede"/>
<rect x="223.10" y="79.40" width="17.80" height="3.20" fill="#000"/>
<rect x="248.80" y="91.00" width="17.70" height="3.40" fill="#000"/>
<rect x="274.20" y="96.60" width="17.80" height="3.40" fill="#000"/>
<rect x="299.40" y="51.20" width="21.00" height="3.60" fill="#fff"/>
<polygon points="255.40,83.95 255.95,85.44 257.54,85.50 256.29,86.49 256.72,88.02 255.40,87.14 254.08,88.02 254.51,86.49 253.26,85.50 254.85,85.44" fill="#000" stroke="#000" stroke-width="0.3" stroke-linejoin="round"/>
<polygon points="259.90,83.95 260.45,85.44 262.04,85.50 260.79,86.49 261.22,88.02 259.90,87.14 258.58,88.02 259.01,86.49 257.76,85.50 259.35,85.44" fill="#000" stroke="#000" stroke-width="0.3" stroke-linejoin="round"/>
<polygon points="276.35,90.55 276.90,92.04 278.49,92.10 277.24,93.09 277.67,94.62 276.35,93.74 275.03,94.62 275.46,93.09 274.21,92.10 275.80,92.04" fill="#000" stroke="#000" stroke-width="0.3" stroke-linejoin="round"/>
<polygon points="280.85,90.55 281.40,92.04 282.99,92.10 281.74,93.09 282.17,94.62 280.85,93.74 279.53,94.62 279.96,93.09 278.71,92.10 280.30,92.04" fill="#000" stroke="#000" stroke-width="0.3" stroke-linejoin="round"/>
<polygon points="285.35,90.55 285.90,92.04 287.49,92.10 286.24,93.09 286.67,94.62 285.35,93.74 284.03,94.62 284.46,93.09 283.21,92.10 284.80,92.04" fill="#000" stroke="#000" stroke-width="0.3" stroke-linejoin="round"/>
<polygon points="289.85,90.55 290.40,92.04 291.99,92.10 290.74,93.09 291.17,94.62 289.85,93.74 288.53,94.62 288.96,93.09 287.71,92.10 289.30,92.04" fill="#000" stroke="#000" stroke-width="0.3" stroke-linejoin="round"/>
<polygon points="308.80,45.55 309.35,47.04 310.94,47.10 309.69,48.09 310.12,49.62 308.80,48.74 307.48,49.62 307.91,48.09 306.66,47.10 308.25,47.04" fill="#fff" stroke="#fff" stroke-width="0.3" stroke-linejoin="round"/>
<line x1="219.40" y1="36.30" x2="219.40" y2="153.10" stroke="#383838" stroke-width="0.95"/>
<line x1="217.80" y1="152.50" x2="219.40" y2="152.50" stroke="#383838" stroke-width="0.95"/>
<text x="216.20" y="157.00" font-size="8.5" text-anchor="end" letter-spacing="-0.15" fill="#000" stroke="#000" stroke-width="0.33">0</text>
<line x1="217.80" y1="129.38" x2="219.40" y2="129.38" stroke="#383838" stroke-width="0.95"/>
<text x="216.20" y="133.88" font-size="8.5" text-anchor="end" letter-spacing="-0.15" fill="#000" stroke="#000" stroke-width="0.33">20</text>
<line x1="217.80" y1="106.26" x2="219.40" y2="106.26" stroke="#383838" stroke-width="0.95"/>
<text x="216.20" y="110.76" font-size="8.5" text-anchor="end" letter-spacing="-0.15" fill="#000" stroke="#000" stroke-width="0.33">40</text>
<line x1="217.80" y1="83.14" x2="219.40" y2="83.14" stroke="#383838" stroke-width="0.95"/>
<text x="216.20" y="87.64" font-size="8.5" text-anchor="end" letter-spacing="-0.15" fill="#000" stroke="#000" stroke-width="0.33">60</text>
<line x1="217.80" y1="60.02" x2="219.40" y2="60.02" stroke="#383838" stroke-width="0.95"/>
<text x="216.20" y="64.52" font-size="8.5" text-anchor="end" letter-spacing="-0.15" fill="#000" stroke="#000" stroke-width="0.33">80</text>
<line x1="217.80" y1="36.90" x2="219.40" y2="36.90" stroke="#383838" stroke-width="0.95"/>
<text x="216.20" y="41.40" font-size="8.5" text-anchor="end" letter-spacing="-0.15" fill="#000" stroke="#000" stroke-width="0.33">100</text>
<line x1="217.80" y1="152.50" x2="321.00" y2="152.50" stroke="#383838" stroke-width="0.95"/>
<line x1="320.50" y1="36.40" x2="320.50" y2="153.00" stroke="#111" stroke-width="1.1"/>
<line x1="320.50" y1="152.50" x2="323.10" y2="152.50" stroke="#111" stroke-width="1.1"/>
<text x="325.30" y="156.90" font-size="8.5" letter-spacing="-0.15" fill="#000" stroke="#000" stroke-width="0.33">0</text>
<line x1="320.50" y1="113.97" x2="323.10" y2="113.97" stroke="#111" stroke-width="1.1"/>
<text x="325.30" y="118.37" font-size="8.5" letter-spacing="-0.15" fill="#000" stroke="#000" stroke-width="0.33">50</text>
<line x1="320.50" y1="75.43" x2="323.10" y2="75.43" stroke="#111" stroke-width="1.1"/>
<text x="325.30" y="79.83" font-size="8.5" letter-spacing="-0.15" fill="#000" stroke="#000" stroke-width="0.33">100</text>
<line x1="320.50" y1="36.90" x2="323.10" y2="36.90" stroke="#111" stroke-width="1.1"/>
<text x="325.30" y="41.30" font-size="8.5" letter-spacing="-0.15" fill="#000" stroke="#000" stroke-width="0.33">150</text>
<line x1="244.85" y1="152.50" x2="244.85" y2="154.30" stroke="#383838" stroke-width="0.95"/>
<line x1="270.35" y1="152.50" x2="270.35" y2="154.30" stroke="#383838" stroke-width="0.95"/>
<line x1="295.90" y1="152.50" x2="295.90" y2="154.30" stroke="#383838" stroke-width="0.95"/>
<text x="236.00" y="162.10" font-size="8.3" text-anchor="end" transform="rotate(-45 236.00 162.10)" fill="#000" stroke="#000" stroke-width="0.48">Control</text>
<text x="261.65" y="162.10" font-size="8.3" text-anchor="end" transform="rotate(-45 261.65 162.10)" fill="#000" stroke="#000" stroke-width="0.48"><tspan font-size="7.14">α</tspan> L-selectin</text>
<text x="287.10" y="162.10" font-size="8.3" text-anchor="end" transform="rotate(-45 287.10 162.10)" fill="#000" stroke="#000" stroke-width="0.48"><tspan font-size="7.14">α</tspan> E-selectin</text>
<text x="312.80" y="162.10" font-size="8.3" text-anchor="end" transform="rotate(-45 312.80 162.10)" fill="#000" stroke="#000" stroke-width="0.48"><tspan font-size="7.14">α</tspan> ICAM1</text>
<text x="196.40" y="95.70" font-size="9.6" text-anchor="middle" transform="rotate(-90 196.40 95.70)" fill="#000" stroke="#000" stroke-width="0.33">Rolling speed (% of cells)</text>
<text x="342.60" y="95.70" font-size="9.6" text-anchor="middle" transform="rotate(90 342.60 95.70)" fill="#000" stroke="#000" stroke-width="0.33">Median speed (μm/s)</text>
<rect x="224.20" y="234.10" width="17.80" height="15.50" fill="#222222"/>
<rect x="224.20" y="249.30" width="17.80" height="4.00" fill="#383838"/>
<rect x="224.20" y="253.00" width="17.80" height="5.90" fill="#4a4a4a"/>
<rect x="224.20" y="258.60" width="17.80" height="30.70" fill="#b3b3b3"/>
<rect x="224.20" y="289.00" width="17.80" height="44.30" fill="#dadada"/>
<rect x="224.20" y="333.00" width="17.80" height="17.20" fill="#b9b9b9"/>
<rect x="249.90" y="234.10" width="17.70" height="5.40" fill="#262626"/>
<rect x="249.90" y="239.20" width="17.70" height="6.10" fill="#383838"/>
<rect x="249.90" y="245.00" width="17.70" height="16.30" fill="#4c4c4c"/>
<rect x="249.90" y="261.00" width="17.70" height="31.30" fill="#b3b3b3"/>
<rect x="249.90" y="292.00" width="17.70" height="44.30" fill="#dadada"/>
<rect x="249.90" y="336.00" width="17.70" height="14.20" fill="#b9b9b9"/>
<rect x="275.30" y="234.10" width="17.80" height="4.20" fill="#262626"/>
<rect x="275.30" y="238.00" width="17.80" height="3.30" fill="#3c3c3c"/>
<rect x="275.30" y="241.00" width="17.80" height="11.90" fill="#4a4a4a"/>
<rect x="275.30" y="252.60" width="17.80" height="35.70" fill="#b3b3b3"/>
<rect x="275.30" y="288.00" width="17.80" height="30.90" fill="#dadada"/>
<rect x="275.30" y="318.60" width="17.80" height="31.60" fill="#b9b9b9"/>
<rect x="300.90" y="234.10" width="18.00" height="8.20" fill="#333333"/>
<rect x="300.90" y="242.00" width="18.00" height="18.30" fill="#494949"/>
<rect x="300.90" y="260.00" width="18.00" height="35.90" fill="#b3b3b3"/>
<rect x="300.90" y="295.60" width="18.00" height="11.10" fill="#d2d2d2"/>
<rect x="300.90" y="306.40" width="18.00" height="20.90" fill="#dadada"/>
<rect x="300.90" y="327.00" width="18.00" height="23.20" fill="#b9b9b9"/>
<rect x="224.20" y="312.00" width="17.80" height="3.60" fill="#000"/>
<rect x="249.90" y="309.00" width="17.70" height="3.40" fill="#000"/>
<rect x="275.30" y="315.60" width="17.80" height="3.40" fill="#000"/>
<rect x="300.90" y="306.40" width="18.00" height="3.40" fill="#000"/>
<line x1="220.30" y1="233.80" x2="220.30" y2="350.50" stroke="#383838" stroke-width="0.95"/>
<line x1="218.70" y1="349.90" x2="220.30" y2="349.90" stroke="#383838" stroke-width="0.95"/>
<text x="216.20" y="353.00" font-size="8.5" text-anchor="end" letter-spacing="-0.15" fill="#000" stroke="#000" stroke-width="0.33">0</text>
<line x1="218.70" y1="326.80" x2="220.30" y2="326.80" stroke="#383838" stroke-width="0.95"/>
<text x="216.20" y="329.90" font-size="8.5" text-anchor="end" letter-spacing="-0.15" fill="#000" stroke="#000" stroke-width="0.33">20</text>
<line x1="218.70" y1="303.70" x2="220.30" y2="303.70" stroke="#383838" stroke-width="0.95"/>
<text x="216.20" y="306.80" font-size="8.5" text-anchor="end" letter-spacing="-0.15" fill="#000" stroke="#000" stroke-width="0.33">40</text>
<line x1="218.70" y1="280.60" x2="220.30" y2="280.60" stroke="#383838" stroke-width="0.95"/>
<text x="216.20" y="283.70" font-size="8.5" text-anchor="end" letter-spacing="-0.15" fill="#000" stroke="#000" stroke-width="0.33">60</text>
<line x1="218.70" y1="257.50" x2="220.30" y2="257.50" stroke="#383838" stroke-width="0.95"/>
<text x="216.20" y="260.60" font-size="8.5" text-anchor="end" letter-spacing="-0.15" fill="#000" stroke="#000" stroke-width="0.33">80</text>
<line x1="218.70" y1="234.40" x2="220.30" y2="234.40" stroke="#383838" stroke-width="0.95"/>
<text x="216.20" y="237.50" font-size="8.5" text-anchor="end" letter-spacing="-0.15" fill="#000" stroke="#000" stroke-width="0.33">100</text>
<line x1="218.70" y1="349.90" x2="321.20" y2="349.90" stroke="#383838" stroke-width="0.95"/>
<line x1="320.70" y1="233.90" x2="320.70" y2="350.40" stroke="#111" stroke-width="1.1"/>
<line x1="320.70" y1="349.90" x2="323.30" y2="349.90" stroke="#111" stroke-width="1.1"/>
<text x="325.50" y="353.90" font-size="8.5" letter-spacing="-0.15" fill="#000" stroke="#000" stroke-width="0.33">0</text>
<line x1="320.70" y1="311.40" x2="323.30" y2="311.40" stroke="#111" stroke-width="1.1"/>
<text x="325.50" y="315.40" font-size="8.5" letter-spacing="-0.15" fill="#000" stroke="#000" stroke-width="0.33">50</text>
<line x1="320.70" y1="272.90" x2="323.30" y2="272.90" stroke="#111" stroke-width="1.1"/>
<text x="325.50" y="276.90" font-size="8.5" letter-spacing="-0.15" fill="#000" stroke="#000" stroke-width="0.33">100</text>
<line x1="320.70" y1="234.40" x2="323.30" y2="234.40" stroke="#111" stroke-width="1.1"/>
<text x="325.50" y="238.40" font-size="8.5" letter-spacing="-0.15" fill="#000" stroke="#000" stroke-width="0.33">150</text>
<line x1="245.95" y1="349.90" x2="245.95" y2="351.70" stroke="#383838" stroke-width="0.95"/>
<line x1="271.45" y1="349.90" x2="271.45" y2="351.70" stroke="#383838" stroke-width="0.95"/>
<line x1="297.00" y1="349.90" x2="297.00" y2="351.70" stroke="#383838" stroke-width="0.95"/>
<text x="236.30" y="360.70" font-size="8.3" text-anchor="end" transform="rotate(-45 236.30 360.70)" fill="#000" stroke="#000" stroke-width="0.48">Control</text>
<text x="261.95" y="360.70" font-size="8.3" text-anchor="end" transform="rotate(-45 261.95 360.70)" fill="#000" stroke="#000" stroke-width="0.48"><tspan font-size="7.14">α</tspan> L-selectin</text>
<text x="287.40" y="360.70" font-size="8.3" text-anchor="end" transform="rotate(-45 287.40 360.70)" fill="#000" stroke="#000" stroke-width="0.48"><tspan font-size="7.14">α</tspan> E-selectin</text>
<text x="313.10" y="360.70" font-size="8.3" text-anchor="end" transform="rotate(-45 313.10 360.70)" fill="#000" stroke="#000" stroke-width="0.48"><tspan font-size="7.14">α</tspan> ICAM1</text>
<text x="195.20" y="291.95" font-size="9.6" text-anchor="middle" transform="rotate(-90 195.20 291.95)" fill="#000" stroke="#000" stroke-width="0.33">Rolling speed (% of cells)</text>
<text x="342.60" y="292.15" font-size="9.6" text-anchor="middle" transform="rotate(90 342.60 292.15)" fill="#000" stroke="#000" stroke-width="0.33">Median speed (μm/s)</text>
<rect x="223.10" y="432.20" width="17.80" height="20.10" fill="#222222"/>
<rect x="223.10" y="452.00" width="17.80" height="10.90" fill="#3b3b3b"/>
<rect x="223.10" y="462.60" width="17.80" height="21.30" fill="#525252"/>
<rect x="223.10" y="483.60" width="17.80" height="37.70" fill="#b3b3b3"/>
<rect x="223.10" y="521.00" width="17.80" height="23.30" fill="#dadada"/>
<rect x="223.10" y="544.00" width="17.80" height="4.00" fill="#b9b9b9"/>
<rect x="248.80" y="432.20" width="17.70" height="10.50" fill="#222222"/>
<rect x="248.80" y="442.40" width="17.70" height="9.50" fill="#3b3b3b"/>
<rect x="248.80" y="451.60" width="17.70" height="16.70" fill="#525252"/>
<rect x="248.80" y="468.00" width="17.70" height="49.30" fill="#b3b3b3"/>
<rect x="248.80" y="517.00" width="17.70" height="22.30" fill="#dadada"/>
<rect x="248.80" y="539.00" width="17.70" height="9.00" fill="#b9b9b9"/>
<rect x="274.20" y="432.20" width="17.80" height="13.10" fill="#222222"/>
<rect x="274.20" y="445.00" width="17.80" height="5.70" fill="#3b3b3b"/>
<rect x="274.20" y="450.40" width="17.80" height="14.30" fill="#525252"/>
<rect x="274.20" y="464.40" width="17.80" height="46.90" fill="#b3b3b3"/>
<rect x="274.20" y="511.00" width="17.80" height="30.70" fill="#dadada"/>
<rect x="274.20" y="541.40" width="17.80" height="6.60" fill="#b9b9b9"/>
<rect x="299.80" y="432.20" width="18.00" height="4.30" fill="#222222"/>
<rect x="299.80" y="436.20" width="18.00" height="10.50" fill="#3b3b3b"/>
<rect x="299.80" y="446.40" width="18.00" height="19.50" fill="#525252"/>
<rect x="299.80" y="465.60" width="18.00" height="38.70" fill="#b3b3b3"/>
<rect x="299.80" y="504.00" width="18.00" height="28.30" fill="#dadada"/>
<rect x="299.80" y="532.00" width="18.00" height="16.00" fill="#b9b9b9"/>
<rect x="223.10" y="478.00" width="17.80" height="3.40" fill="#000"/>
<rect x="248.80" y="492.60" width="17.70" height="3.40" fill="#000"/>
<rect x="274.20" y="493.20" width="17.80" height="3.40" fill="#000"/>
<rect x="299.80" y="500.00" width="18.00" height="3.40" fill="#000"/>
<polygon points="283.10,485.95 283.65,487.44 285.24,487.50 283.99,488.49 284.42,490.02 283.10,489.14 281.78,490.02 282.21,488.49 280.96,487.50 282.55,487.44" fill="#000" stroke="#000" stroke-width="0.3" stroke-linejoin="round"/>
<polygon points="304.30,491.35 304.85,492.84 306.44,492.90 305.19,493.89 305.62,495.42 304.30,494.54 302.98,495.42 303.41,493.89 302.16,492.90 303.75,492.84" fill="#000" stroke="#000" stroke-width="0.3" stroke-linejoin="round"/>
<polygon points="308.80,491.35 309.35,492.84 310.94,492.90 309.69,493.89 310.12,495.42 308.80,494.54 307.48,495.42 307.91,493.89 306.66,492.90 308.25,492.84" fill="#000" stroke="#000" stroke-width="0.3" stroke-linejoin="round"/>
<polygon points="313.30,491.35 313.85,492.84 315.44,492.90 314.19,493.89 314.62,495.42 313.30,494.54 311.98,495.42 312.41,493.89 311.16,492.90 312.75,492.84" fill="#000" stroke="#000" stroke-width="0.3" stroke-linejoin="round"/>
<line x1="219.40" y1="431.90" x2="219.40" y2="548.30" stroke="#383838" stroke-width="0.95"/>
<line x1="217.80" y1="547.70" x2="219.40" y2="547.70" stroke="#383838" stroke-width="0.95"/>
<text x="215.30" y="550.50" font-size="8.5" text-anchor="end" letter-spacing="-0.15" fill="#000" stroke="#000" stroke-width="0.33">0</text>
<line x1="217.80" y1="524.66" x2="219.40" y2="524.66" stroke="#383838" stroke-width="0.95"/>
<text x="215.30" y="527.46" font-size="8.5" text-anchor="end" letter-spacing="-0.15" fill="#000" stroke="#000" stroke-width="0.33">20</text>
<line x1="217.80" y1="501.62" x2="219.40" y2="501.62" stroke="#383838" stroke-width="0.95"/>
<text x="215.30" y="504.42" font-size="8.5" text-anchor="end" letter-spacing="-0.15" fill="#000" stroke="#000" stroke-width="0.33">40</text>
<line x1="217.80" y1="478.58" x2="219.40" y2="478.58" stroke="#383838" stroke-width="0.95"/>
<text x="215.30" y="481.38" font-size="8.5" text-anchor="end" letter-spacing="-0.15" fill="#000" stroke="#000" stroke-width="0.33">60</text>
<line x1="217.80" y1="455.54" x2="219.40" y2="455.54" stroke="#383838" stroke-width="0.95"/>
<text x="215.30" y="458.34" font-size="8.5" text-anchor="end" letter-spacing="-0.15" fill="#000" stroke="#000" stroke-width="0.33">80</text>
<line x1="217.80" y1="432.50" x2="219.40" y2="432.50" stroke="#383838" stroke-width="0.95"/>
<text x="215.30" y="435.30" font-size="8.5" text-anchor="end" letter-spacing="-0.15" fill="#000" stroke="#000" stroke-width="0.33">100</text>
<line x1="217.80" y1="547.70" x2="321.00" y2="547.70" stroke="#383838" stroke-width="0.95"/>
<line x1="320.50" y1="432.00" x2="320.50" y2="548.20" stroke="#111" stroke-width="1.1"/>
<line x1="320.50" y1="547.70" x2="323.10" y2="547.70" stroke="#111" stroke-width="1.1"/>
<text x="325.30" y="550.70" font-size="8.5" letter-spacing="-0.15" fill="#000" stroke="#000" stroke-width="0.33">0</text>
<line x1="320.50" y1="509.30" x2="323.10" y2="509.30" stroke="#111" stroke-width="1.1"/>
<text x="325.30" y="512.30" font-size="8.5" letter-spacing="-0.15" fill="#000" stroke="#000" stroke-width="0.33">50</text>
<line x1="320.50" y1="470.90" x2="323.10" y2="470.90" stroke="#111" stroke-width="1.1"/>
<text x="325.30" y="473.90" font-size="8.5" letter-spacing="-0.15" fill="#000" stroke="#000" stroke-width="0.33">100</text>
<line x1="320.50" y1="432.50" x2="323.10" y2="432.50" stroke="#111" stroke-width="1.1"/>
<text x="325.30" y="435.50" font-size="8.5" letter-spacing="-0.15" fill="#000" stroke="#000" stroke-width="0.33">150</text>
<line x1="244.85" y1="547.70" x2="244.85" y2="549.50" stroke="#383838" stroke-width="0.95"/>
<line x1="270.35" y1="547.70" x2="270.35" y2="549.50" stroke="#383838" stroke-width="0.95"/>
<line x1="295.90" y1="547.70" x2="295.90" y2="549.50" stroke="#383838" stroke-width="0.95"/>
<text x="235.50" y="558.50" font-size="8.3" text-anchor="end" transform="rotate(-45 235.50 558.50)" fill="#000" stroke="#000" stroke-width="0.48">Control</text>
<text x="261.15" y="558.50" font-size="8.3" text-anchor="end" transform="rotate(-45 261.15 558.50)" fill="#000" stroke="#000" stroke-width="0.48"><tspan font-size="7.14">α</tspan> L-selectin</text>
<text x="286.60" y="558.50" font-size="8.3" text-anchor="end" transform="rotate(-45 286.60 558.50)" fill="#000" stroke="#000" stroke-width="0.48"><tspan font-size="7.14">α</tspan> E-selectin</text>
<text x="312.30" y="558.50" font-size="8.3" text-anchor="end" transform="rotate(-45 312.30 558.50)" fill="#000" stroke="#000" stroke-width="0.48"><tspan font-size="7.14">α</tspan> ICAM1</text>
<text x="197.00" y="487.10" font-size="9.6" text-anchor="middle" transform="rotate(-90 197.00 487.10)" fill="#000" stroke="#000" stroke-width="0.33">Rolling speed (% of cells)</text>
<text x="342.60" y="488.10" font-size="9.6" text-anchor="middle" transform="rotate(90 342.60 488.10)" fill="#000" stroke="#000" stroke-width="0.33">Median speed (μm/s)</text>
</svg>
</body></html>
